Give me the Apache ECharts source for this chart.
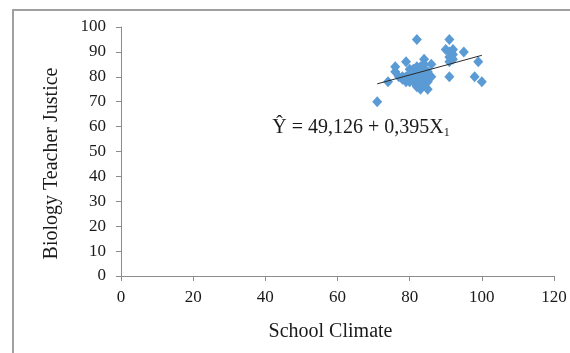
<!DOCTYPE html>
<html>
<head>
<meta charset="utf-8">
<script src="https://cdn.jsdelivr.net/npm/echarts@6/dist/echarts.min.js"></script>
<style>
  html, body { margin: 0; padding: 0; background: #fff; }
  #chart { width: 570px; height: 353px; }
</style>
</head>
<body>
<div id="chart"></div>
<script>
// School Climate (x) vs Biology Teacher Justice (y)
const climate = [71, 74, 76, 76, 77, 78, 78, 79, 79, 79, 80, 80, 80, 81, 81, 81,
  82, 82, 82, 82, 83, 83, 83, 83, 83, 84, 84, 84, 84, 84, 85, 85, 85, 85, 86, 86,
  90, 91, 91, 91, 91, 91, 92, 92, 92, 95, 98, 99, 100, 80, 82, 83, 84, 81, 79];
const justice = [70, 78, 84, 82, 80, 79, 80, 86, 78, 80, 81, 78, 79, 82, 80, 83,
  95, 76, 81, 84, 75, 80, 82, 84, 78, 87, 83, 79, 81, 85, 75, 80, 82, 78, 85, 80,
  91, 95, 90, 88, 86, 80, 91, 87, 89, 90, 80, 86, 78, 83, 79, 77, 77, 78, 79];

// fitted line from the equation in the chart
const intercept = 49.126;
const slope = 0.395;
const equationText = "Ŷ = 49,126 + 0,395X";

const xTicks = { min: 0, max: 120, interval: 20 };
const yTicks = { min: 0, max: 100, interval: 10 };

const points = climate.map((x, i) => [x, justice[i]]);
const xLo = Math.min(...climate);
const xHi = Math.max(...climate);
const fitLine = [xLo, xHi].map(x => [x, intercept + slope * x]);

const serif = "Liberation Serif";
const chart = echarts.init(document.getElementById("chart"));

const option = {
  animation: false,
  backgroundColor: "#fff",
  grid: { left: 121, right: 16, top: 27, bottom: 77 },
  xAxis: {
    type: "value",
    min: xTicks.min, max: xTicks.max, interval: xTicks.interval,
    name: "School Climate",
    nameLocation: "middle",
    nameGap: 46,
    nameTextStyle: { fontFamily: serif, fontSize: 20, color: "#1a1a1a", padding: [0, 14, 0, 0] },
    axisLine: { lineStyle: { color: "#8c8c8c", width: 1 } },
    axisTick: { show: true, length: 5, lineStyle: { color: "#8c8c8c" } },
    axisLabel: { fontFamily: serif, fontSize: 17, color: "#1a1a1a", margin: 13 },
    splitLine: { show: false }
  },
  yAxis: {
    type: "value",
    min: yTicks.min, max: yTicks.max, interval: yTicks.interval,
    name: "Biology Teacher Justice",
    nameLocation: "middle",
    nameGap: 59,
    nameTextStyle: { fontFamily: serif, fontSize: 20, color: "#1a1a1a", padding: [0, 24, 0, 0] },
    axisLine: { show: true, lineStyle: { color: "#8c8c8c", width: 1 } },
    axisTick: { show: true, length: 5, lineStyle: { color: "#8c8c8c" } },
    axisLabel: { fontFamily: serif, fontSize: 17, color: "#1a1a1a", margin: 15 },
    splitLine: { show: false }
  },
  graphic: [
    {
      type: "rect",
      shape: { x: 13, y: 10, width: 700, height: 500 },
      style: { fill: "none", stroke: "#a0a0a0", lineWidth: 2 },
      silent: true
    }
  ],
  series: [
    {
      type: "scatter",
      data: points,
      symbol: "diamond",
      symbolSize: [10, 11],
      itemStyle: { color: "#5b9bd5", opacity: 1 },
      z: 2
    },
    {
      type: "line",
      data: fitLine,
      symbol: "none",
      lineStyle: { color: "#2b2b2b", width: 1 },
      z: 3,
      markPoint: {
        symbol: "rect",
        symbolSize: 0,
        data: [{ coord: [66.5, 59.5] }],
        label: {
          show: true,
          position: "inside",
          formatter: "{m|" + equationText + "}{s|1}",
          rich: {
            m: { fontFamily: serif, fontSize: 20, color: "#1a1a1a" },
            s: { fontFamily: serif, fontSize: 12, color: "#1a1a1a", padding: [10, 0, 0, 0] }
          }
        }
      }
    }
  ]
};

option && chart.setOption(option);
</script>
</body>
</html>
